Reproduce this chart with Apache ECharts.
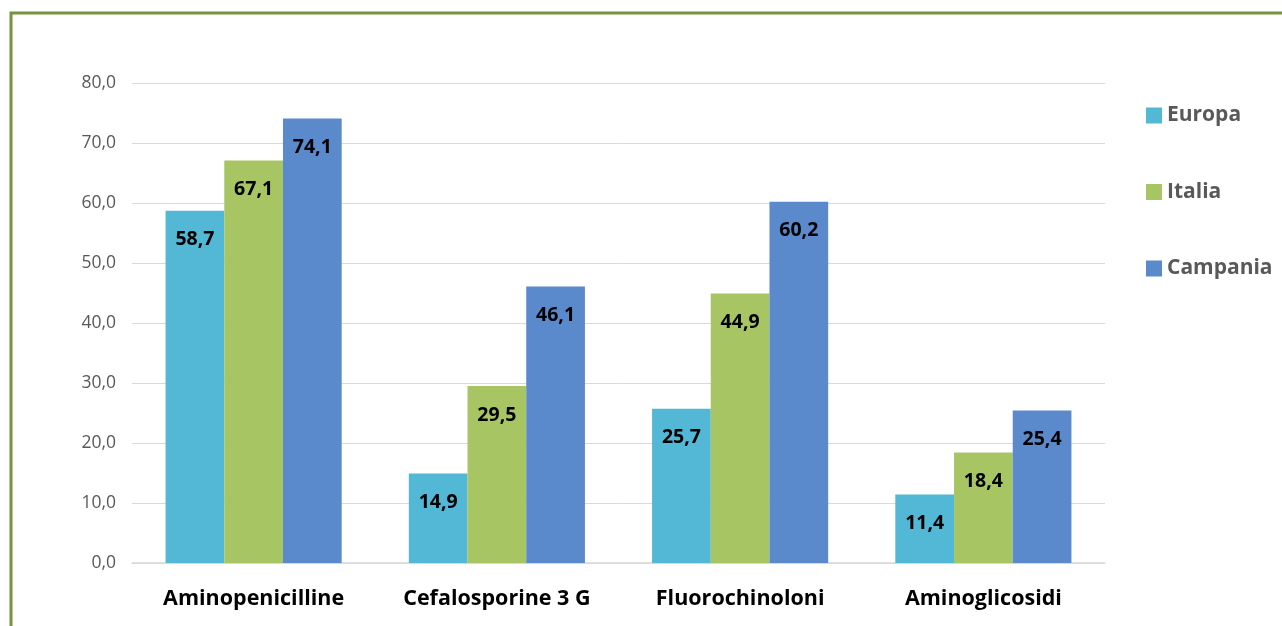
<!DOCTYPE html>
<html>
<head>
<meta charset="utf-8">
<script src="https://cdn.jsdelivr.net/npm/echarts@6/dist/echarts.min.js"></script>
<style>
  html, body { margin: 0; padding: 0; background: #fff; }
  #chart { width: 1282px; height: 626px; }
</style>
</head>
<body>
<div id="chart"></div>
<script>
// Resistenza agli antibiotici: Europa, Italia, Campania (%)
const categories = ['Aminopenicilline', 'Cefalosporine 3 G', 'Fluorochinoloni', 'Aminoglicosidi'];
const europa   = [58.7, 14.9, 25.7, 11.4];
const italia   = [67.1, 29.5, 44.9, 18.4];
const campania = [74.1, 46.1, 60.2, 25.4];
const seriesNames = ['Europa', 'Italia', 'Campania'];
const colors = ['#53B7D6', '#A7C663', '#5A8ACB'];

const fmt = v => Number(v).toFixed(1).replace('.', ',');
const font = '"Open Sans", "Noto Sans", sans-serif';

const chart = echarts.init(document.getElementById('chart'));

function barSeries(name, data, color) {
  return {
    name: name,
    type: 'bar',
    data: data,
    barGap: '0%',
    barCategoryGap: '27.6%',
    itemStyle: { color: color },
    label: {
      show: true,
      position: 'insideTop',
      distance: 19,
      color: '#000',
      fontWeight: 'bold',
      fontSize: 19.5,
      fontFamily: font,
      formatter: p => fmt(p.value)
    }
  };
}

chart.setOption({
  animation: false,
  backgroundColor: '#fff',
  color: colors,
  graphic: [{
    type: 'rect',
    shape: { x: 11, y: 13, width: 1400, height: 700 },
    style: { fill: 'none', stroke: '#77933C', lineWidth: 3 },
    z: 100
  }],
  grid: { left: 132, right: 177, top: 83, bottom: 63 },
  legend: {
    orient: 'vertical',
    left: 1141,
    top: 100,
    itemGap: 55.5,
    itemWidth: 16,
    itemHeight: 16,
    icon: 'rect',
    data: seriesNames,
    textStyle: { color: '#595959', fontSize: 21, fontWeight: 'bold', fontFamily: font }
  },
  xAxis: {
    type: 'category',
    data: categories,
    axisTick: { show: false },
    axisLine: { lineStyle: { color: '#D9D9D9', width: 1.5 } },
    axisLabel: { interval: 0, color: '#000', fontSize: 21.5, fontWeight: 'bold', fontFamily: font, margin: 25 }
  },
  yAxis: {
    type: 'value',
    min: 0,
    max: 80,
    interval: 10,
    axisLine: { show: false },
    axisTick: { show: false },
    splitLine: { lineStyle: { color: '#D9D9D9', width: 1 } },
    axisLabel: { color: '#595959', fontSize: 17.5, fontFamily: font, margin: 16, formatter: v => fmt(v) }
  },
  series: [
    barSeries(seriesNames[0], europa, colors[0]),
    barSeries(seriesNames[1], italia, colors[1]),
    barSeries(seriesNames[2], campania, colors[2])
  ]
});
</script>
</body>
</html>
